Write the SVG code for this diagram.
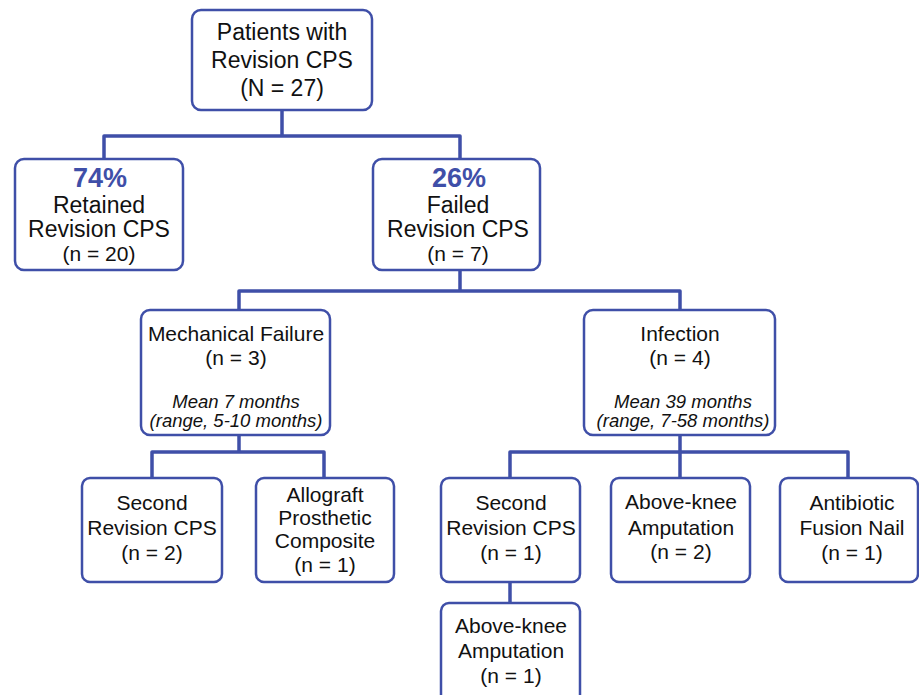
<svg xmlns="http://www.w3.org/2000/svg" width="919" height="695" viewBox="0 0 919 695">
<style>
.box{fill:#fff;stroke:#3F4FA8;stroke-width:2.5}
.conn{fill:none;stroke:#3F4FA8;stroke-width:3.5;stroke-linejoin:round}
text{font-family:"Liberation Sans",Arial,sans-serif;fill:#111;text-anchor:middle}
.t23{font-size:23px}
.t21{font-size:21px}
.it{font-size:18.5px;font-style:italic}
.pct{font-size:27px;font-weight:bold;fill:#3F4FA8}
</style>
<rect width="919" height="695" fill="#fff"/>
<g id="connectors">
<path class="conn" d="M282 110V136M104 159V136H460V159"/>
<path class="conn" d="M460 270V291M239 310V291H680V310"/>
<path class="conn" d="M239 435V452M152 478V452H324V478"/>
<path class="conn" d="M680 435V452M510 478V452H848V478M680 452V478"/>
<path class="conn" d="M510 582V603"/>
</g>
<g id="n_root">
<rect class="box" x="192" y="10" width="180" height="100" rx="9"/>
<text class="t23" x="282" y="40">Patients with</text>
<text class="t23" x="282" y="68">Revision CPS</text>
<text class="t23" x="282" y="96">(N = 27)</text>
</g>
<g id="n_retained">
<rect class="box" x="15" y="159" width="168" height="111" rx="9"/>
<text class="pct" x="100" y="187">74%</text>
<text class="t23" x="99" y="213">Retained</text>
<text class="t23" x="99" y="237">Revision CPS</text>
<text class="t21" x="99" y="261">(n = 20)</text>
</g>
<g id="n_failed">
<rect class="box" x="373" y="159" width="167" height="111" rx="9"/>
<text class="pct" x="459" y="187">26%</text>
<text class="t23" x="458" y="213">Failed</text>
<text class="t23" x="458" y="237">Revision CPS</text>
<text class="t21" x="458" y="261">(n = 7)</text>
</g>
<g id="n_mech">
<rect class="box" x="141" y="310" width="189" height="125" rx="9"/>
<text class="t21" x="236" y="341">Mechanical Failure</text>
<text class="t21" x="236" y="365">(n = 3)</text>
<text class="it" x="236" y="408">Mean 7 months</text>
<text class="it" x="236" y="427">(range, 5-10 months)</text>
</g>
<g id="n_inf">
<rect class="box" x="584" y="310" width="191" height="125" rx="9"/>
<text class="t21" x="680" y="341">Infection</text>
<text class="t21" x="680" y="365">(n = 4)</text>
<text class="it" x="683" y="408">Mean 39 months</text>
<text class="it" x="683" y="427">(range, 7-58 months)</text>
</g>
<g id="n_second_l">
<rect class="box" x="82" y="478" width="140" height="104" rx="8"/>
<text class="t21" x="152" y="510">Second</text>
<text class="t21" x="152" y="535">Revision CPS</text>
<text class="t21" x="152" y="560">(n = 2)</text>
</g>
<g id="n_allograft">
<rect class="box" x="256" y="478" width="138" height="104" rx="8"/>
<text class="t21" x="325" y="502">Allograft</text>
<text class="t21" x="325" y="525">Prosthetic</text>
<text class="t21" x="325" y="548">Composite</text>
<text class="t21" x="325" y="572">(n = 1)</text>
</g>
<g id="n_second_r">
<rect class="box" x="441" y="478" width="139" height="104" rx="8"/>
<text class="t21" x="511" y="510">Second</text>
<text class="t21" x="511" y="535">Revision CPS</text>
<text class="t21" x="511" y="560">(n = 1)</text>
</g>
<g id="n_ak2">
<rect class="box" x="611" y="478" width="139" height="104" rx="8"/>
<text class="t21" x="681" y="509">Above-knee</text>
<text class="t21" x="681" y="535">Amputation</text>
<text class="t21" x="681" y="559">(n = 2)</text>
</g>
<g id="n_nail">
<rect class="box" x="780" y="478" width="138" height="104" rx="8"/>
<text class="t21" x="852" y="510">Antibiotic</text>
<text class="t21" x="852" y="535">Fusion Nail</text>
<text class="t21" x="852" y="560">(n = 1)</text>
</g>
<g id="n_ak1">
<rect class="box" x="441" y="603" width="139" height="100" rx="8"/>
<text class="t21" x="511" y="633">Above-knee</text>
<text class="t21" x="511" y="658">Amputation</text>
<text class="t21" x="511" y="683">(n = 1)</text>
</g>
</svg>
